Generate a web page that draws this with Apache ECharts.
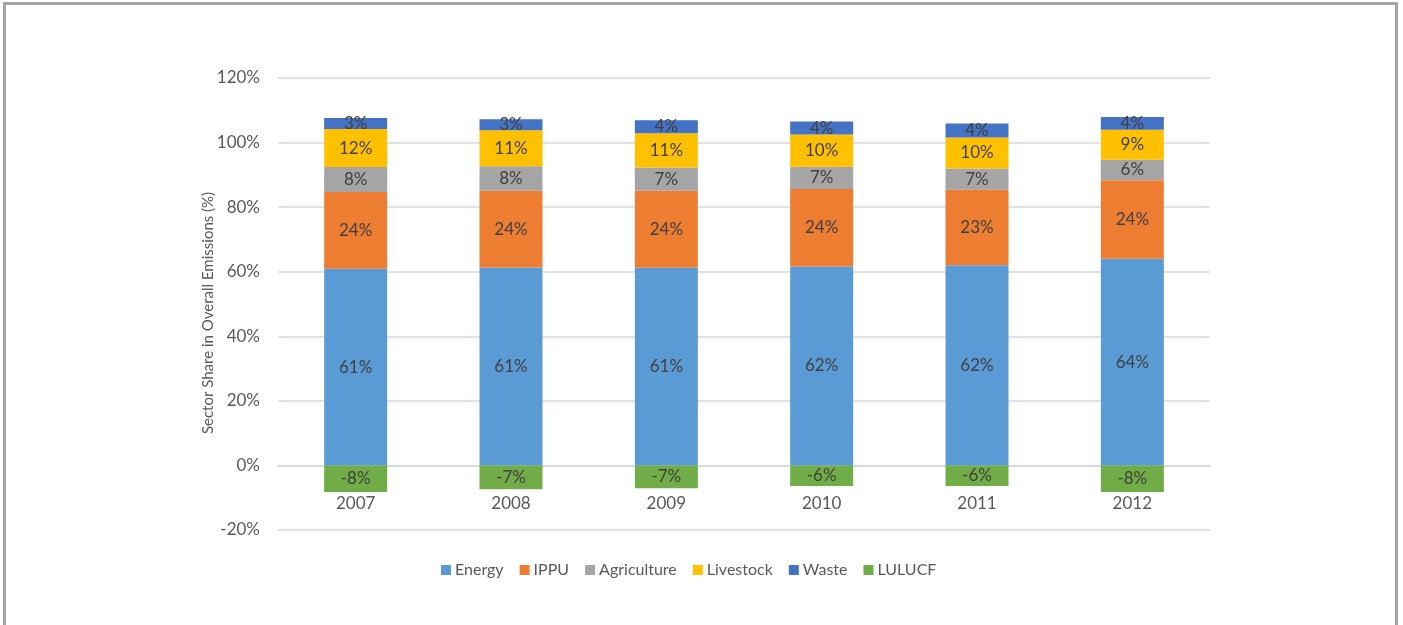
<!DOCTYPE html>
<html>
<head>
<meta charset="utf-8">
<script src="https://cdn.jsdelivr.net/npm/echarts@6/dist/echarts.min.js"></script>
<style>
    html, body {
        margin: 0;
        padding: 0;
        background: #fff;
    }
    #chart {
        position: absolute;
        left: 0;
        top: 0;
        width: 1403px;
        height: 625px;
    }
    #frame {
        position: absolute;
        left: 3px;
        top: 2px;
        width: 1389px;
        height: 640px;
        border: 3px solid #a6a6a6;
        pointer-events: none;
    }
</style>
</head>
<body>
<div id="chart"></div>
<div id="frame"></div>
<script>
// years on the category axis
const years = ['2007', '2008', '2009', '2010', '2011', '2012'];
// sector shares in %
const energy = [60.9, 61.3, 61.2, 61.6, 62.0, 64.0];
const ippu = [23.8, 23.8, 23.9, 24.0, 23.4, 24.3];
const agriculture = [7.7, 7.6, 7.2, 6.9, 6.6, 6.4];
const livestock = [11.8, 11.1, 10.6, 10.0, 9.6, 9.3];
const waste = [3.4, 3.4, 4.0, 4.0, 4.3, 3.9];
const lulucf = [-8.2, -7.4, -7.1, -6.4, -6.4, -8.2];

const sectors = ['Energy', 'IPPU', 'Agriculture', 'Livestock', 'Waste', 'LULUCF'];
const sectorData = [energy, ippu, agriculture, livestock, waste, lulucf];
const colors = ['#5b9bd5', '#ed7d31', '#a5a5a5', '#ffc000', '#4472c4', '#70ad47'];

const font = 'Lato, "Open Sans", sans-serif';

function init() {
    const gridTop = 78;
    const gridBottom = 95;
    const plotHeight = 625 - gridTop - gridBottom;
    // category axis sits on 0%, one step (20 of 140) above the bottom
    const zeroOffset = -plotHeight * 20 / 140;

    const option = {
        backgroundColor: '#fff',
        animation: false,
        color: colors,
        textStyle: { fontFamily: font },
        grid: {
            left: 278,
            right: 193,
            top: gridTop,
            bottom: gridBottom
        },
        legend: {
            left: 436,
            top: 557,
            itemWidth: 10,
            itemHeight: 10,
            itemGap: 16,
            icon: 'rect',
            data: sectors,
            textStyle: { fontSize: 16, color: '#595959', fontFamily: font, padding: [0, 0, 0, -1] }
        },
        xAxis: {
            type: 'category',
            data: years,
            offset: zeroOffset,
            axisLine: { onZero: false, lineStyle: { color: '#d9d9d9', width: 2 } },
            axisTick: { show: false },
            axisLabel: { fontSize: 17, color: '#595959', margin: 30 }
        },
        yAxis: {
            type: 'value',
            min: -20,
            max: 120,
            interval: 20,
            name: 'Sector Share in Overall Emissions (%)',
            nameLocation: 'middle',
            nameGap: 62,
            nameMoveOverlap: false,
            nameTextStyle: { fontSize: 15, color: '#595959', padding: [0, 18, 0, 0] },
            axisLine: { show: false },
            axisTick: { show: false },
            axisLabel: { fontSize: 17, color: '#595959', margin: 18, formatter: '{value}%' },
            splitLine: { lineStyle: { color: '#dfe3e8', width: 2 } }
        },
        series: sectors.map(function (name, i) {
            return {
                name: name,
                type: 'bar',
                stack: 'total',
                barWidth: 63,
                data: sectorData[i],
                label: {
                    show: true,
                    position: 'inside',
                    fontSize: 17,
                    color: '#404040',
                    formatter: function (p) {
                        return Math.round(p.value) + '%';
                    }
                }
            };
        })
    };
    let mychart = echarts.init(document.getElementById('chart'));
    mychart.setOption(option);
}
init();
</script>
</body>
</html>
